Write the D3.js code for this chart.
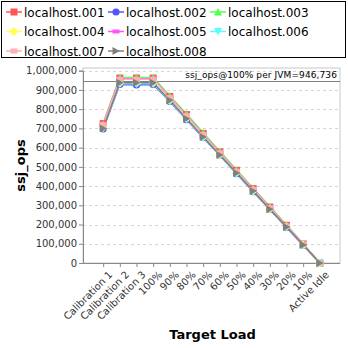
<!DOCTYPE html>
<html>
<head>
<meta charset="utf-8">
<script src="https://cdn.jsdelivr.net/npm/d3@7"></script>
<style>
  body { margin: 0; background: #fff; }
  svg { display: block; font-family: "DejaVu Sans", sans-serif; }
</style>
</head>
<body>
<svg id="chart" width="348" height="348"></svg>
<script>
// categories on the x axis
const categories = ['Calibration 1', 'Calibration 2', 'Calibration 3', '100%', '90%', '80%', '70%', '60%', '50%', '40%', '30%', '20%', '10%', 'Active Idle'];

// ssj_ops per host
const host001 = [725000, 962000, 962000, 962000, 866000, 772000, 674000, 578000, 482000, 387000, 291000, 196000, 99000, 0];
const host002 = [697000, 928000, 926000, 928000, 840000, 745000, 652000, 560000, 464000, 371000, 278000, 185000, 92000, 0];
const host003 = [722000, 965000, 965000, 965000, 868000, 775000, 677000, 580000, 484000, 388000, 292000, 196000, 98000, 0];
const host004 = [705000, 935000, 935000, 935000, 845000, 750000, 655000, 562000, 468000, 375000, 280000, 188000, 93000, 0];
const host005 = [718000, 958000, 958000, 958000, 862000, 768000, 670000, 574000, 478000, 384000, 288000, 193000, 97000, 0];
const host006 = [702000, 933000, 932000, 933000, 843000, 748000, 653000, 561000, 466000, 373000, 279000, 186000, 92000, 0];
const host007 = [720000, 955000, 955000, 955000, 860000, 766000, 668000, 573000, 477000, 383000, 287000, 192000, 96000, 0];
const host008 = [700000, 937000, 937000, 937000, 846000, 750000, 655000, 562000, 468000, 374000, 280000, 187000, 93000, 0];

const hostNames = ['localhost.001', 'localhost.002', 'localhost.003', 'localhost.004', 'localhost.005', 'localhost.006', 'localhost.007', 'localhost.008'];
const yTicks = [0, 100000, 200000, 300000, 400000, 500000, 600000, 700000, 800000, 900000, 1000000];
const refValue = 946736;

const colors = ['#ff5555', '#5555ff', '#55ff55', '#ffff55', '#ff55ff', '#55ffff', '#ffafaf', '#808080'];
const shapes = ['square', 'circle', 'triangle', 'diamond', 'rect', 'triangleDown', 'hbar', 'triangleRight'];

const series = [host001, host002, host003, host004, host005, host006, host007, host008]
  .map((v, i) => ({ name: hostNames[i], values: v, color: colors[i], shape: shapes[i] }));

const svg = d3.select('#chart');
const plot = { left: 83, top: 68, right: 340, bottom: 263 };

const x = d3.scalePoint()
  .domain(categories)
  .range([plot.left, plot.right])
  .padding(1.21);

const y = d3.scaleLinear()
  .domain([0, 1000000])
  .range([plot.bottom, plot.top + 2.7]);

// marker paths centred on 0,0
function markerPath(shape) {
  const s = 3.5;
  switch (shape) {
    case 'square': return `M${-s},${-s}H${s}V${s}H${-s}Z`;
    case 'circle': return d3.symbol(d3.symbolCircle, 40)();
    case 'triangle': return `M0,${-s - 0.5}L${s + 0.5},${s}H${-s - 0.5}Z`;
    case 'diamond': return `M0,${-s - 1}L${s + 1},0L0,${s + 1}L${-s - 1},0Z`;
    case 'rect': return `M${-s},${-2}H${s}V${2}H${-s}Z`;
    case 'triangleDown': return `M${-s - 0.5},${-s}H${s + 0.5}L0,${s + 0.5}Z`;
    case 'hbar': return `M${-s},${-2.5}H${s}V${2.5}H${-s}Z`;
    case 'triangleRight': return `M${-s},${-s - 0.5}L${s + 0.5},0L${-s},${s + 0.5}Z`;
  }
}

// legend box
svg.append('rect')
  .attr('x', 1.5).attr('y', 1.5)
  .attr('width', 344).attr('height', 56)
  .attr('fill', '#fff').attr('stroke', '#000');

const legend = svg.append('g');
series.forEach((s, i) => {
  const col = i % 3, row = Math.floor(i / 3);
  const lx = [6, 108, 210][col];
  const ly = 12 + row * 19.5;
  const g = legend.append('g').attr('transform', `translate(${lx},${ly})`);
  g.append('line').attr('x1', 0).attr('x2', 16).attr('stroke', s.color).attr('stroke-width', 1.5);
  g.append('path').attr('transform', 'translate(8,0)').attr('d', markerPath(s.shape)).attr('fill', s.color);
  g.append('text').attr('x', 18).attr('y', 4.5)
    .attr('font-size', 12).attr('fill', '#000').text(s.name);
});

// plot background and grid
svg.append('rect')
  .attr('x', plot.left).attr('y', plot.top)
  .attr('width', plot.right - plot.left).attr('height', plot.bottom - plot.top)
  .attr('fill', '#fff').attr('stroke', '#c8c8c8');

svg.append('g').selectAll('line')
  .data(yTicks.filter(d => d > 0))
  .join('line')
  .attr('x1', plot.left).attr('x2', plot.right)
  .attr('y1', d => Math.round(y(d)) + 0.5).attr('y2', d => Math.round(y(d)) + 0.5)
  .attr('stroke', '#d6d6d6').attr('stroke-dasharray', '3,3');

// y axis
const yAxis = svg.append('g')
  .attr('transform', `translate(${plot.left},0)`)
  .call(d3.axisLeft(y).tickValues(yTicks).tickSize(4).tickPadding(2).tickFormat(d3.format(',')));
yAxis.select('.domain').attr('stroke', '#888');
yAxis.selectAll('.tick line').attr('stroke', '#888');
yAxis.selectAll('text').attr('font-size', 10).attr('fill', '#333').attr('font-family', 'DejaVu Sans, sans-serif');

// x axis
const xAxis = svg.append('g')
  .attr('transform', `translate(0,${plot.bottom})`)
  .call(d3.axisBottom(x).tickSize(4).tickPadding(2));
xAxis.select('.domain').attr('stroke', '#888').attr('d', `M${plot.left},0.5H${plot.right}`);
xAxis.selectAll('.tick line').attr('stroke', '#888');
xAxis.selectAll('text')
  .attr('font-size', 10).attr('fill', '#333').attr('font-family', 'DejaVu Sans, sans-serif')
  .attr('text-anchor', 'end')
  .attr('dy', '0.3em')
  .attr('transform', 'translate(3,6) rotate(-45)');

// reference line ssj_ops@100%
svg.append('line')
  .attr('x1', plot.left).attr('x2', plot.right)
  .attr('y1', Math.round(y(refValue)) + 0.5).attr('y2', Math.round(y(refValue)) + 0.5)
  .attr('stroke', '#808080').attr('stroke-width', 1.2);
svg.append('text')
  .attr('x', plot.right - 3).attr('y', y(refValue) - 3)
  .attr('text-anchor', 'end').attr('font-size', 9).attr('letter-spacing', 0.1)
  .attr('fill', '#000').text('ssj_ops@100% per JVM=946,736');

// series lines and markers
const line = d3.line().x((d, i) => x(categories[i])).y(d => y(d));
const sg = svg.append('g');
series.forEach(s => {
  sg.append('path')
    .attr('d', line(s.values))
    .attr('fill', 'none').attr('stroke', s.color).attr('stroke-width', 1.5);
});
series.forEach(s => {
  sg.append('g').selectAll('path')
    .data(s.values)
    .join('path')
    .attr('transform', (d, i) => `translate(${x(categories[i])},${y(d)})`)
    .attr('d', markerPath(s.shape))
    .attr('fill', s.color);
});

// axis titles
svg.append('text')
  .attr('transform', `translate(25,${(plot.top + plot.bottom) / 2}) rotate(-90)`)
  .attr('text-anchor', 'middle').attr('font-size', 13).attr('font-weight', 'bold')
  .text('ssj_ops');
svg.append('text')
  .attr('x', (plot.left + plot.right) / 2 + 1).attr('y', 339)
  .attr('text-anchor', 'middle').attr('font-size', 13).attr('font-weight', 'bold')
  .text('Target Load');
</script>
</body>
</html>
